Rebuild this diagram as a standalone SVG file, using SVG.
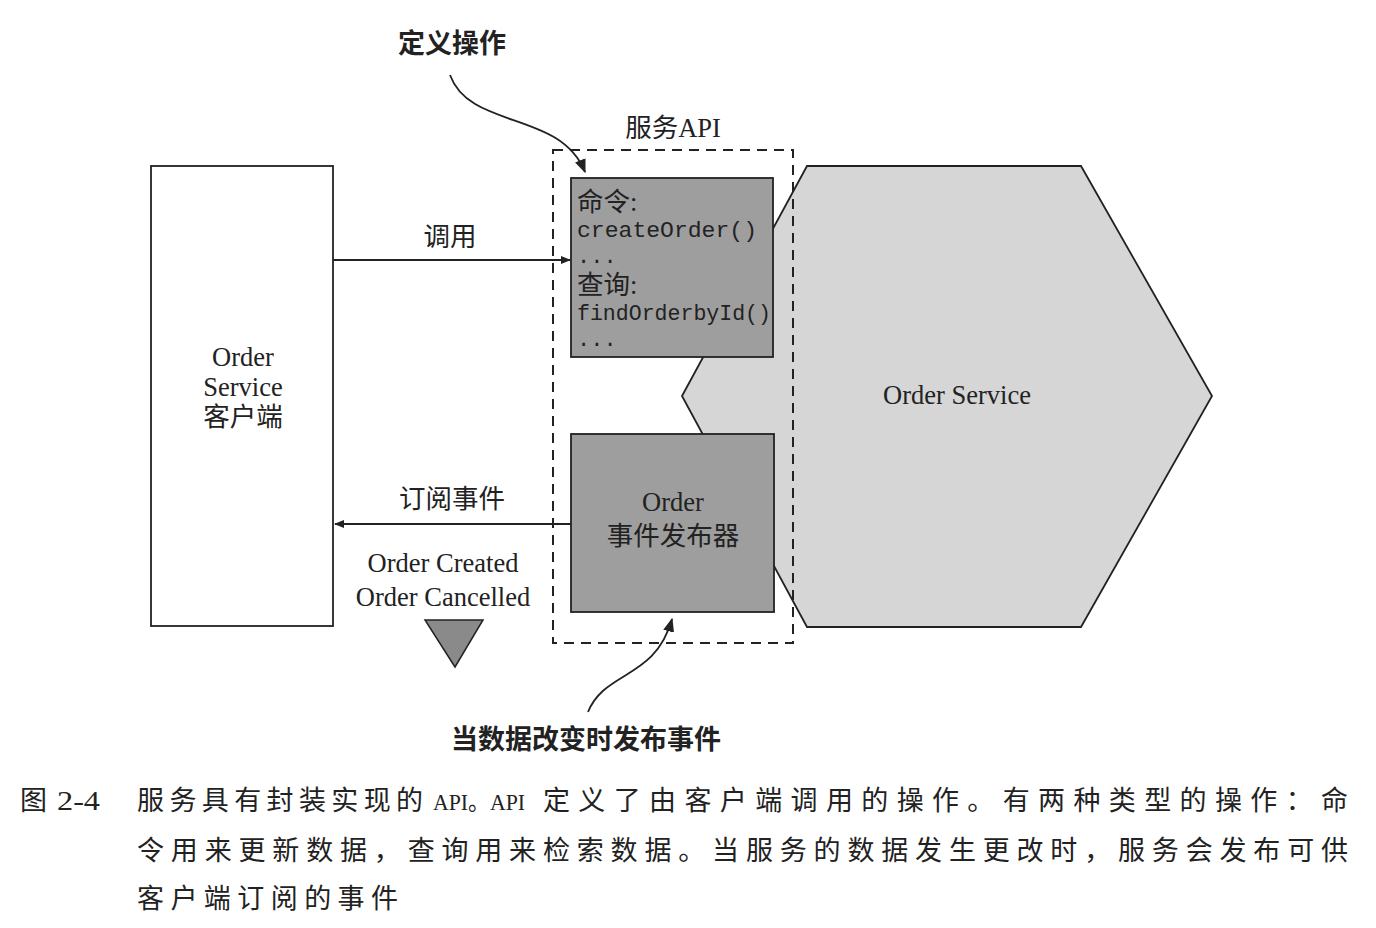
<svg xmlns="http://www.w3.org/2000/svg" width="1376" height="928" viewBox="0 0 1376 928">
<defs>
<style>
.t{font-family:"Liberation Serif","Noto Sans CJK SC",serif;font-size:26.5px;fill:#222}
.c{text-anchor:middle}
.b{font-family:"Noto Sans CJK SC","Liberation Sans",sans-serif;font-weight:bold;font-size:27px;fill:#222;text-anchor:middle}
.m{font-family:"Liberation Mono",monospace;font-size:22px;fill:#222}
.cap{font-family:"Liberation Serif","Noto Sans CJK SC",serif;font-size:27px;fill:#222}
.ln{stroke:#222;stroke-width:1.8;fill:none}
</style>
<marker id="ah" viewBox="0 0 10 10" refX="9" refY="5" markerWidth="10" markerHeight="10" markerUnits="userSpaceOnUse" orient="auto">
<path d="M0,1 L10,5 L0,9 z" fill="#222"/>
</marker>
<marker id="ah2" viewBox="0 0 10 10" refX="9" refY="5" markerWidth="14" markerHeight="14" markerUnits="userSpaceOnUse" orient="auto">
<path d="M0,1 L10,5 L0,9 z" fill="#222"/>
</marker>
</defs>
<rect width="1376" height="928" fill="#fff"/>

<g id="order-service">
<polygon points="682,396 807,166 1081,166 1212,396 1081,627 807,627" fill="#d6d6d6" stroke="#222" stroke-width="1.8"/>
<text class="t c" x="957" y="404">Order Service</text>
</g>

<g id="service-api">
<rect x="553" y="150" width="240" height="493" fill="none" stroke="#222" stroke-width="2" stroke-dasharray="10 7"/>
<text class="t c" x="673" y="137">服务API</text>
</g>

<g id="commands">
<rect x="571" y="178" width="202" height="179" fill="#9e9e9e" stroke="#222" stroke-width="1.8"/>
<text class="t" x="577" y="211">命令:</text>
<text class="m" x="577" y="237" textLength="180" lengthAdjust="spacingAndGlyphs">createOrder()</text>
<text class="m" x="577" y="263">...</text>
<text class="t" x="577" y="294">查询:</text>
<text class="m" x="577" y="320" textLength="194" lengthAdjust="spacingAndGlyphs">findOrderbyId()</text>
<text class="m" x="577" y="346">...</text>
</g>

<g id="publisher">
<rect x="571" y="434" width="203" height="178" fill="#9e9e9e" stroke="#222" stroke-width="1.8"/>
<text class="t c" x="673" y="511">Order</text>
<text class="t c" x="673" y="545">事件发布器</text>
</g>

<g id="client">
<rect x="151" y="166" width="182" height="460" fill="#fff" stroke="#222" stroke-width="1.8"/>
<text class="t c" x="243" y="366">Order</text>
<text class="t c" x="243" y="396">Service</text>
<text class="t c" x="243" y="426">客户端</text>
</g>

<g id="event-triangle">
<polygon points="425,620 483,620 455,667" fill="#8a8a8a" stroke="#222" stroke-width="1.5"/>
</g>

<g id="connectors">
<line class="ln" x1="333" y1="260" x2="570" y2="260" marker-end="url(#ah)"/>
<line class="ln" x1="571" y1="524" x2="335" y2="524" marker-end="url(#ah)"/>
<path class="ln" d="M450,75 C470,130 560,110 585,172" marker-end="url(#ah2)"/>
<path class="ln" d="M588,712 C605,670 655,680 672,619" marker-end="url(#ah2)"/>
</g>

<g id="labels">
<text class="t c" x="450" y="246">调用</text>
<text class="t c" x="452" y="508">订阅事件</text>
<text class="t c" x="443" y="572">Order Created</text>
<text class="t c" x="443" y="606">Order Cancelled</text>
<text class="b" x="452" y="53">定义操作</text>
<text class="b" x="586" y="749">当数据改变时发布事件</text>
</g>

<g id="caption">
<text class="cap" x="20" y="810">图</text>
<text class="cap" x="57" y="810" textLength="43" lengthAdjust="spacingAndGlyphs">2-4</text>
<text class="cap" x="137" y="810" textLength="286" lengthAdjust="spacing">服务具有封装实现的</text>
<text class="cap" x="433" y="810" style="font-size:24px" textLength="92" lengthAdjust="spacingAndGlyphs">API。API</text>
<text class="cap" x="543" y="810" textLength="805" lengthAdjust="spacing">定义了由客户端调用的操作。有两种类型的操作：命</text>
<text class="cap" x="137" y="860" textLength="1211" lengthAdjust="spacing">令用来更新数据，查询用来检索数据。当服务的数据发生更改时，服务会发布可供</text>
<text class="cap" x="137" y="908" textLength="261" lengthAdjust="spacing">客户端订阅的事件</text>
</g>
</svg>
